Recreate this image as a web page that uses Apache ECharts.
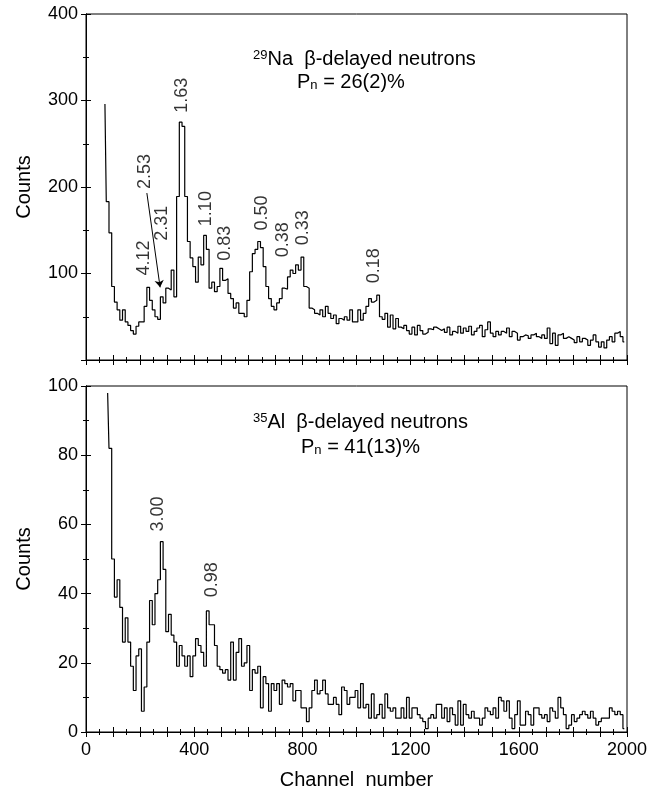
<!DOCTYPE html>
<html>
<head>
<meta charset="utf-8">
<script src="https://cdn.jsdelivr.net/npm/echarts@6/dist/echarts.min.js"></script>
<style>
  html, body { margin: 0; padding: 0; background: #fff; }
  #main { width: 668px; height: 795px; }
</style>
</head>
<body>
<div id="main"></div>
<script>
// histogram bins: 10 channels wide
var binWidth = 10;
var naStart = 70;   // centre of first 29Na bin
var naCounts = [
    296, 183, 147, 85, 67, 58, 46, 58, 44, 40,
    34, 30, 39, 44, 44, 62, 84, 69, 58, 50,
    47, 73, 66, 83, 81, 104, 73, 189, 275, 270,
    189, 137, 118, 108, 90, 119, 110, 144, 128, 83,
    90, 79, 85, 106, 92, 94, 77, 71, 60, 66,
    54, 54, 50, 69, 102, 123, 128, 137, 130, 108,
    85, 71, 62, 58, 66, 71, 83, 82, 96, 104,
    100, 110, 104, 119, 85, 83, 60, 58, 54, 52,
    58, 50, 62, 54, 48, 52, 42, 48, 46, 50,
    46, 58, 44, 44, 58, 46, 54, 62, 71, 67,
    69, 75, 50, 47, 54, 38, 52, 36, 48, 38,
    36, 40, 34, 30, 38, 29, 40, 34, 30, 32,
    36, 35, 38, 36, 34, 36, 32, 38, 29, 33,
    31, 39, 31, 37, 33, 39, 29, 33, 37, 40,
    27, 35, 44, 31, 27, 33, 29, 33, 31, 37,
    27, 33, 31, 23, 27, 29, 28, 25, 29, 31,
    27, 25, 29, 25, 37, 19, 31, 17, 29, 31,
    25, 27, 25, 23, 20, 27, 21, 25, 23, 17,
    23, 29, 21, 15, 21, 14, 23, 27, 21, 31,
    33, 27, 21
];
var alStart = 80;   // centre of first 35Al bin
var alCounts = [
    98, 82, 50, 39, 44, 36, 26, 33, 26, 19,
    12, 22, 24, 6, 13, 26, 38, 31, 40, 44,
    55, 47, 29, 34, 28, 26, 19, 25, 22, 19,
    22, 16, 22, 27, 25, 23, 19, 35, 31, 31,
    25, 19, 18, 17, 18, 15, 26, 15, 23, 27,
    19, 20, 25, 12, 18, 17, 19, 7, 16, 14,
    6, 14, 12, 14, 8, 15, 14, 13, 14, 9,
    12, 12, 7, 7, 3, 7, 12, 15, 11, 12,
    15, 11, 8, 8, 10, 8, 5, 13, 12, 8,
    10, 10, 12, 7, 14, 7, 8, 4, 11, 4,
    5, 8, 4, 11, 7, 6, 7, 4, 4, 7,
    4, 10, 4, 7, 7, 5, 4, 3, 1, 4,
    5, 4, 8, 8, 4, 7, 3, 7, 5, 2,
    9, 2, 8, 5, 4, 6, 4, 4, 2, 4,
    7, 6, 5, 7, 4, 10, 9, 6, 9, 4,
    1, 5, 9, 2, 2, 6, 5, 2, 7, 7,
    5, 4, 5, 3, 7, 6, 4, 10, 7, 5,
    1, 2, 5, 3, 4, 5, 6, 5, 4, 6,
    4, 2, 3, 4, 4, 4, 7, 6, 5, 6,
    5, 1
];

// peak labels (neutron energy, MeV) placed at [channel, counts]
var naPeaks = [
    ['1.63', 355, 306], ['2.53', 218, 218], ['2.31', 281, 158],
    ['4.12', 214, 118], ['1.10', 444, 175], ['0.83', 514, 135],
    ['0.50', 651, 170], ['0.38', 728, 139], ['0.33', 802, 153],
    ['0.18', 1065, 109]
];
var alPeaks = [['3.00', 266, 63], ['0.98', 466, 44]];
var naArrow = [[225, 193], [274, 84]];

var xTicks = [0, 400, 800, 1200, 1600, 2000];

function toSteps(start, counts) {
    return counts.map(function (c, i) { return [start + i * binWidth, c]; });
}
function toLabels(peaks) {
    return peaks.map(function (p) { return { name: p[0], value: [p[1], p[2]] }; });
}

var myChart = echarts.init(document.getElementById('main'));
var font = 'Liberation Sans, Arial, Helvetica, sans-serif';
var axisLine = { show: true, lineStyle: { color: '#000', width: 1 } };
var tick = { show: true, inside: true, length: 5, lineStyle: { color: '#000' } };
var minor = { show: true, splitNumber: 2, length: 3, lineStyle: { color: '#000' } };

function xAx(grid, pos, labels) {
    return {
        type: 'value', gridIndex: grid, position: pos, min: 0, max: 2000, interval: 100,
        axisLine: axisLine, axisTick: tick, minorTick: minor, splitLine: { show: false },
        axisLabel: {
            show: labels, color: '#000', fontSize: 18, fontFamily: font, margin: 9,
            formatter: function (v) { return xTicks.indexOf(v) >= 0 ? String(v) : ''; }
        },
        name: labels ? 'Channel  number' : '', nameLocation: 'middle', nameGap: 38,
        nameTextStyle: { color: '#000', fontSize: 20, fontFamily: font }
    };
}
function yAx(grid, pos, max, step, labels, hideZero) {
    return {
        type: 'value', gridIndex: grid, position: pos, min: 0, max: max, interval: step,
        axisLine: axisLine, axisTick: tick, minorTick: minor, splitLine: { show: false },
        axisLabel: {
            show: labels, color: '#000', fontSize: 18, fontFamily: font, margin: 8,
            formatter: function (v) { return (hideZero && v === 0) ? '' : String(v); }
        },
        name: labels ? 'Counts' : '', nameLocation: 'middle', nameGap: 52,
        nameTextStyle: { color: '#000', fontSize: 20, fontFamily: font }
    };
}

var peakLabel = {
    show: true, position: 'inside', rotate: 90, formatter: '{b}',
    color: '#000', fontSize: 18, fontFamily: font
};

option = {
    backgroundColor: '#fff',
    animation: false,
    grid: [
        { left: 86, top: 14, width: 541, height: 346, show: true, borderColor: '#000', borderWidth: 1 },
        { left: 86, top: 386, width: 541, height: 346, show: true, borderColor: '#000', borderWidth: 1 }
    ],
    xAxis: [xAx(0, 'bottom', false), xAx(0, 'top', false), xAx(1, 'bottom', true), xAx(1, 'top', false)],
    yAxis: [yAx(0, 'left', 400, 100, true, true), yAx(0, 'right', 400, 100, false, false),
            yAx(1, 'left', 100, 20, true, false), yAx(1, 'right', 100, 20, false, false)],
    graphic: [
        { type: 'text', left: 253, top: 49, style: {
            text: '{s|29}{m|Na  β-delayed neutrons}', fill: '#000',
            rich: { s: { fontSize: 13, fontFamily: font, verticalAlign: 'top' },
                    m: { fontSize: 20, fontFamily: font } } } },
        { type: 'text', left: 297, top: 72, style: {
            text: '{m|P}{s|n}{m| = 26(2)%}', fill: '#000',
            rich: { s: { fontSize: 13, fontFamily: font, verticalAlign: 'bottom' },
                    m: { fontSize: 20, fontFamily: font } } } },
        { type: 'text', left: 253, top: 412, style: {
            text: '{s|35}{m|Al  β-delayed neutrons}', fill: '#000',
            rich: { s: { fontSize: 13, fontFamily: font, verticalAlign: 'top' },
                    m: { fontSize: 20, fontFamily: font } } } },
        { type: 'text', left: 301, top: 437, style: {
            text: '{m|P}{s|n}{m| = 41(13)%}', fill: '#000',
            rich: { s: { fontSize: 13, fontFamily: font, verticalAlign: 'bottom' },
                    m: { fontSize: 20, fontFamily: font } } } }
    ],
    series: [
        {
            name: '29Na', type: 'line', step: 'middle', xAxisIndex: 0, yAxisIndex: 0,
            showSymbol: false, symbol: 'none', silent: true,
            lineStyle: { color: '#000', width: 1.2 },
            data: toSteps(naStart, naCounts),
            markLine: {
                silent: true, symbol: ['none', 'arrow'], symbolSize: 7,
                label: { show: false },
                lineStyle: { color: '#000', width: 1, type: 'solid' },
                data: [[{ coord: naArrow[0] }, { coord: naArrow[1] }]]
            }
        },
        {
            name: '35Al', type: 'line', step: 'middle', xAxisIndex: 2, yAxisIndex: 2,
            showSymbol: false, symbol: 'none', silent: true,
            lineStyle: { color: '#000', width: 1.2 },
            data: toSteps(alStart, alCounts)
        },
        {
            type: 'scatter', xAxisIndex: 0, yAxisIndex: 0, symbolSize: 0, silent: true,
            label: peakLabel, data: toLabels(naPeaks)
        },
        {
            type: 'scatter', xAxisIndex: 2, yAxisIndex: 2, symbolSize: 0, silent: true,
            label: peakLabel, data: toLabels(alPeaks)
        }
    ]
};

myChart.setOption(option);
</script>
</body>
</html>
